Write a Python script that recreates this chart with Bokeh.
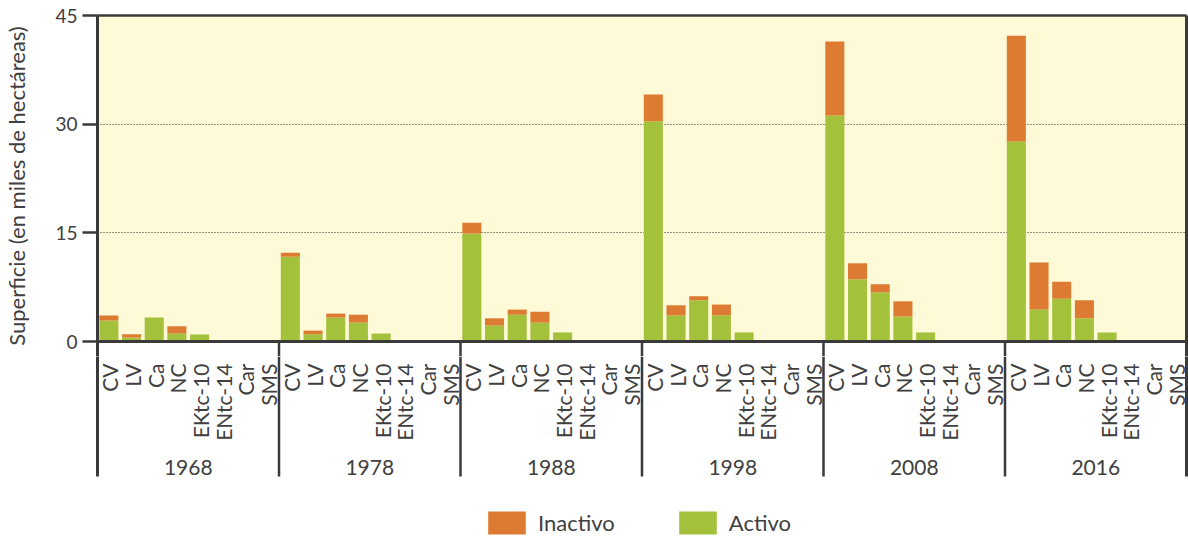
import math
from bokeh.plotting import figure
from bokeh.layouts import column
from bokeh.models import (ColumnDataSource, FactorRange, Range1d, LinearAxis, FixedTicker,
                          Span, BoxAnnotation, Legend, LegendItem)
from bokeh.core.properties import value
from bokeh.embed import file_html
from bokeh.resources import INLINE

# ---------------- data ----------------
years = ["1968", "1978", "1988", "1998", "2008", "2016"]
varieties = ["CV", "LV", "Ca", "NC", "EKtc-10", "ENtc-14", "Car", "SMS"]

activo_1968 = [2.9, 0.55, 3.3, 1.1, 0.95, 0, 0, 0]
activo_1978 = [11.7, 1.0, 3.3, 2.6, 1.1, 0, 0, 0]
activo_1988 = [14.9, 2.2, 3.7, 2.6, 1.25, 0, 0, 0]
activo_1998 = [30.4, 3.6, 5.7, 3.6, 1.25, 0, 0, 0]
activo_2008 = [31.2, 8.6, 6.8, 3.45, 1.25, 0, 0, 0]
activo_2016 = [27.6, 4.4, 5.9, 3.2, 1.25, 0, 0, 0]

inactivo_1968 = [0.7, 0.45, 0.0, 1.0, 0, 0, 0, 0]
inactivo_1978 = [0.55, 0.5, 0.55, 1.1, 0, 0, 0, 0]
inactivo_1988 = [1.5, 1.0, 0.7, 1.5, 0, 0, 0, 0]
inactivo_1998 = [3.7, 1.4, 0.55, 1.5, 0, 0, 0, 0]
inactivo_2008 = [10.2, 2.2, 1.1, 2.1, 0, 0, 0, 0]
inactivo_2016 = [14.6, 6.5, 2.35, 2.5, 0, 0, 0, 0]

y_ticks = [0, 15, 30, 45]
grid_ticks = [15, 30]
y_max = 45
series_labels = ["Inactivo", "Activo"]
y_axis_title = "Superficie (en miles de hectáreas)"

activo_by_year = [activo_1968, activo_1978, activo_1988, activo_1998, activo_2008, activo_2016]
inactivo_by_year = [inactivo_1968, inactivo_1978, inactivo_1988, inactivo_1998, inactivo_2008, inactivo_2016]

factors = [(y, v) for y in years for v in varieties]
activo = [a for row in activo_by_year for a in row]
inactivo = [a for row in inactivo_by_year for a in row]
src = ColumnDataSource(dict(x=factors, activo=activo, inactivo=inactivo,
                            label=[v for (_, v) in factors]))

# ---------------- style / layout ----------------
ORANGE = "#DD7B33"
GREEN = "#A4C13C"
YELLOW = "#FEF9D6"
AXIS = "#3a3a3a"
TEXT = "#404040"
FONT = "Lato"

W = 1188
LEFT, RIGHT_BORDER = 95, 2
TOP, ZERO = 15, 341
H1 = 356                 # top figure height; its frame runs a little below value 0
H2 = 537 - H1            # bottom (labels) figure height
PXU = (ZERO - TOP) / y_max
y_low = -(H1 - ZERO) / PXU

xr = FactorRange(factors=factors, group_padding=0, factor_padding=0, range_padding=0)
n = len(varieties)
bx = [float(i * n) for i in range(1, len(years))]   # group boundaries


def plain_axis(**kw):
    return LinearAxis(ticker=FixedTicker(ticks=[]), major_label_text_font_size="0px",
                      major_tick_out=0, major_tick_in=0, minor_tick_out=0, minor_tick_in=0,
                      major_label_standoff=0, axis_line_color=AXIS, **kw)


# ---------------- top: bars ----------------
p = figure(width=W, height=H1, x_range=xr, y_range=Range1d(y_low, y_max),
           output_backend="svg", toolbar_location=None, x_axis_location=None,
           min_border_left=LEFT, min_border_right=RIGHT_BORDER, min_border_top=TOP,
           min_border_bottom=0,
           background_fill_color="white", border_fill_color="white", outline_line_color=None)

p.add_layout(BoxAnnotation(bottom=0, top=y_max, fill_color=YELLOW, fill_alpha=1,
                           line_color=None, level="image"))

p.xgrid.visible = False
p.ygrid.ticker = FixedTicker(ticks=grid_ticks)
p.ygrid.grid_line_color = "#2a2a2a"
p.ygrid.grid_line_dash = "1 2"
p.ygrid.grid_line_width = 1

ax = p.yaxis[0]
ax.ticker = FixedTicker(ticks=y_ticks)
ax.axis_line_width = 3
ax.axis_line_color = AXIS
ax.major_tick_line_width = 2.5
ax.major_tick_line_color = AXIS
ax.major_tick_out = 15
ax.major_tick_in = 0
ax.minor_tick_out = 0
ax.minor_tick_in = 0
ax.major_label_standoff = 5
ax.major_label_text_font = FONT
ax.major_label_text_font_size = "19px"
ax.major_label_text_color = TEXT
ax.axis_label = y_axis_title
ax.axis_label_standoff = 22
ax.axis_label_text_font = FONT
ax.axis_label_text_font_size = "22px"
ax.axis_label_text_font_style = "normal"
ax.axis_label_text_color = TEXT

p.add_layout(plain_axis(axis_line_width=3), "right")
p.add_layout(plain_axis(axis_line_width=2.5), "above")

p.vbar_stack(["activo", "inactivo"], x="x", width=0.84, source=src,
             fill_color=[GREEN, ORANGE], line_color=None)

p.segment(x0=bx, y0=0, x1=bx, y1=y_low, line_color=AXIS, line_width=2.5)
p.add_layout(Span(location=0, dimension="width", line_color=AXIS, line_width=3))

# ---------------- bottom: category axis + legend ----------------
q = figure(width=W, height=H2, x_range=xr, y_range=Range1d(-H2, 0),
           output_backend="svg", toolbar_location=None,
           x_axis_location=None, y_axis_location=None,
           min_border_left=LEFT, min_border_right=RIGHT_BORDER, min_border_top=0,
           min_border_bottom=0, background_fill_color="white", border_fill_color="white",
           outline_line_color=None)
q.xgrid.visible = False
q.ygrid.visible = False

SEP = -(476 - H1)      # separator bottom (pixels below top of this figure)

q.add_layout(plain_axis(axis_line_width=3, bounds=(SEP, 0)), "left")
q.add_layout(plain_axis(axis_line_width=3, bounds=(SEP, 0)), "right")

q.text(x="x", y=-(363 - H1), text="label", source=src, angle=math.pi / 2,
       text_align="right", text_baseline="middle", x_offset=1,
       text_font=value(FONT), text_font_size="21px", text_color=TEXT)

q.text(x=years, y=-(467 - H1), text=years, text_align="center", text_baseline="middle",
       text_font=value(FONT), text_font_size="21px", text_color=TEXT)

q.segment(x0=bx, y0=0, x1=bx, y1=SEP, line_color=AXIS, line_width=2.5)

# legend swatches: zero-height bars, only used for the legend
sw_inact = q.vbar(x=[factors[0]], top=[0], bottom=[0], width=0.84,
                  fill_color=ORANGE, line_color=None)
sw_act = q.vbar(x=[factors[0]], top=[0], bottom=[0], width=0.84,
                fill_color=GREEN, line_color=None)

legend = Legend(items=[LegendItem(label=series_labels[0], renderers=[sw_inact]),
                       LegendItem(label=series_labels[1], renderers=[sw_act])],
                location=(386, 0), orientation="horizontal",
                glyph_width=47, glyph_height=29, label_standoff=8, spacing=59,
                padding=0, margin=0, border_line_color=None, background_fill_alpha=0,
                label_text_font=FONT, label_text_font_size="22px", label_text_color=TEXT)
q.add_layout(legend)

layout = column(p, q, spacing=0)
open("out.html", "w").write(file_html(layout, INLINE))
